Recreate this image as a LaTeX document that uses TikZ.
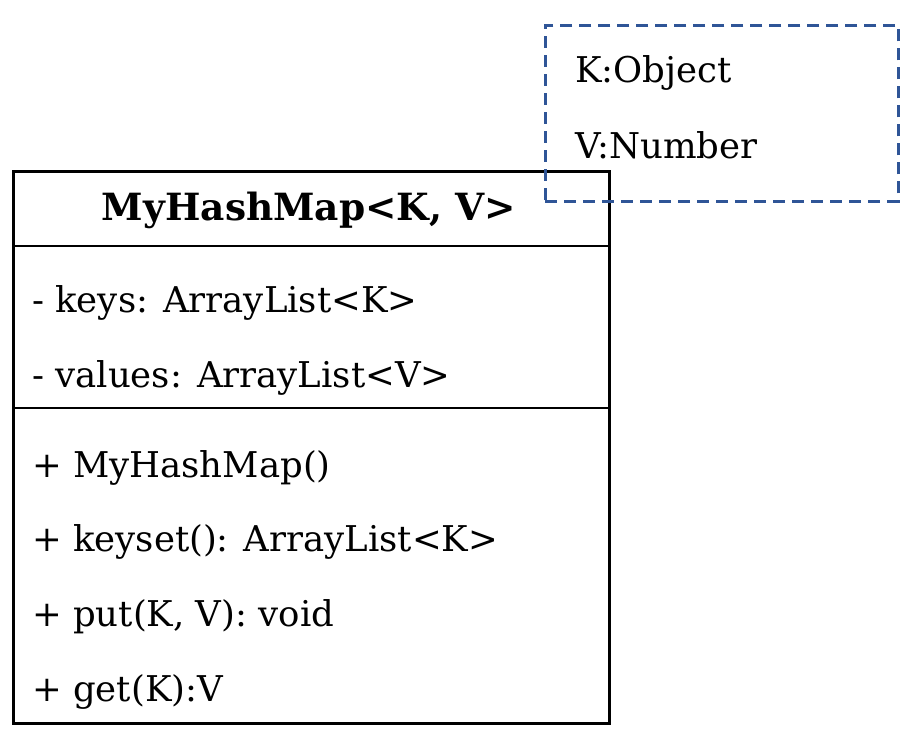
\documentclass[tikz,border=0pt]{standalone}
\usepackage{fontspec}
\setmainfont{DejaVu Serif}
\usepackage{tikz}
\usetikzlibrary{positioning}
\definecolor{noteblue}{HTML}{2F5597}

\begin{document}
\begin{tikzpicture}[x=1pt, y=-1pt,
  classbox/.style={draw, line width=2.7pt, fill=white, inner sep=0pt, minimum width=596pt, minimum height=552pt, anchor=north west},
  notebox/.style={draw=noteblue, line width=2.8pt, dash pattern=on 12pt off 7pt, inner sep=0pt, minimum width=353pt, minimum height=176pt, anchor=north west},
  member/.style={anchor=base west, inner sep=0pt, font=\fontsize{35.5}{40}\selectfont},
  title/.style={anchor=base, inner sep=0pt, font=\fontsize{37.5}{42}\selectfont\bfseries}
]
\useasboundingbox (0,0) rectangle (922,744);
\node[classbox] (cls) at (12,170) {};
\node[notebox] (note) at (544,24) {};

\node[title] (name) at (309,220) {MyHashMap<K, V>};
\draw[line width=2.7pt] (cls.west |- 0,246) -- (cls.east |- 0,246);
\draw[line width=2.7pt] (cls.west |- 0,408) -- (cls.east |- 0,408);

\node[member] (keys) at (32,312) {- keys: ArrayList<K>};
\node[member] (vals) at (32,387) {- values: ArrayList<V>};
\node[member] (ctor) at (32,477) {+ MyHashMap()};
\node[member] (kset) at (32,551) {+ keyset(): ArrayList<K>};
\node[member] (put) at (32,626) {+ put(K, V): void};
\node[member] (get) at (32,701) {+ get(K):V};

\node[member] (tk) at (575,82) {K:Object};
\node[member] (tv) at (575,158) {V:Number};
\end{tikzpicture}
\end{document}
